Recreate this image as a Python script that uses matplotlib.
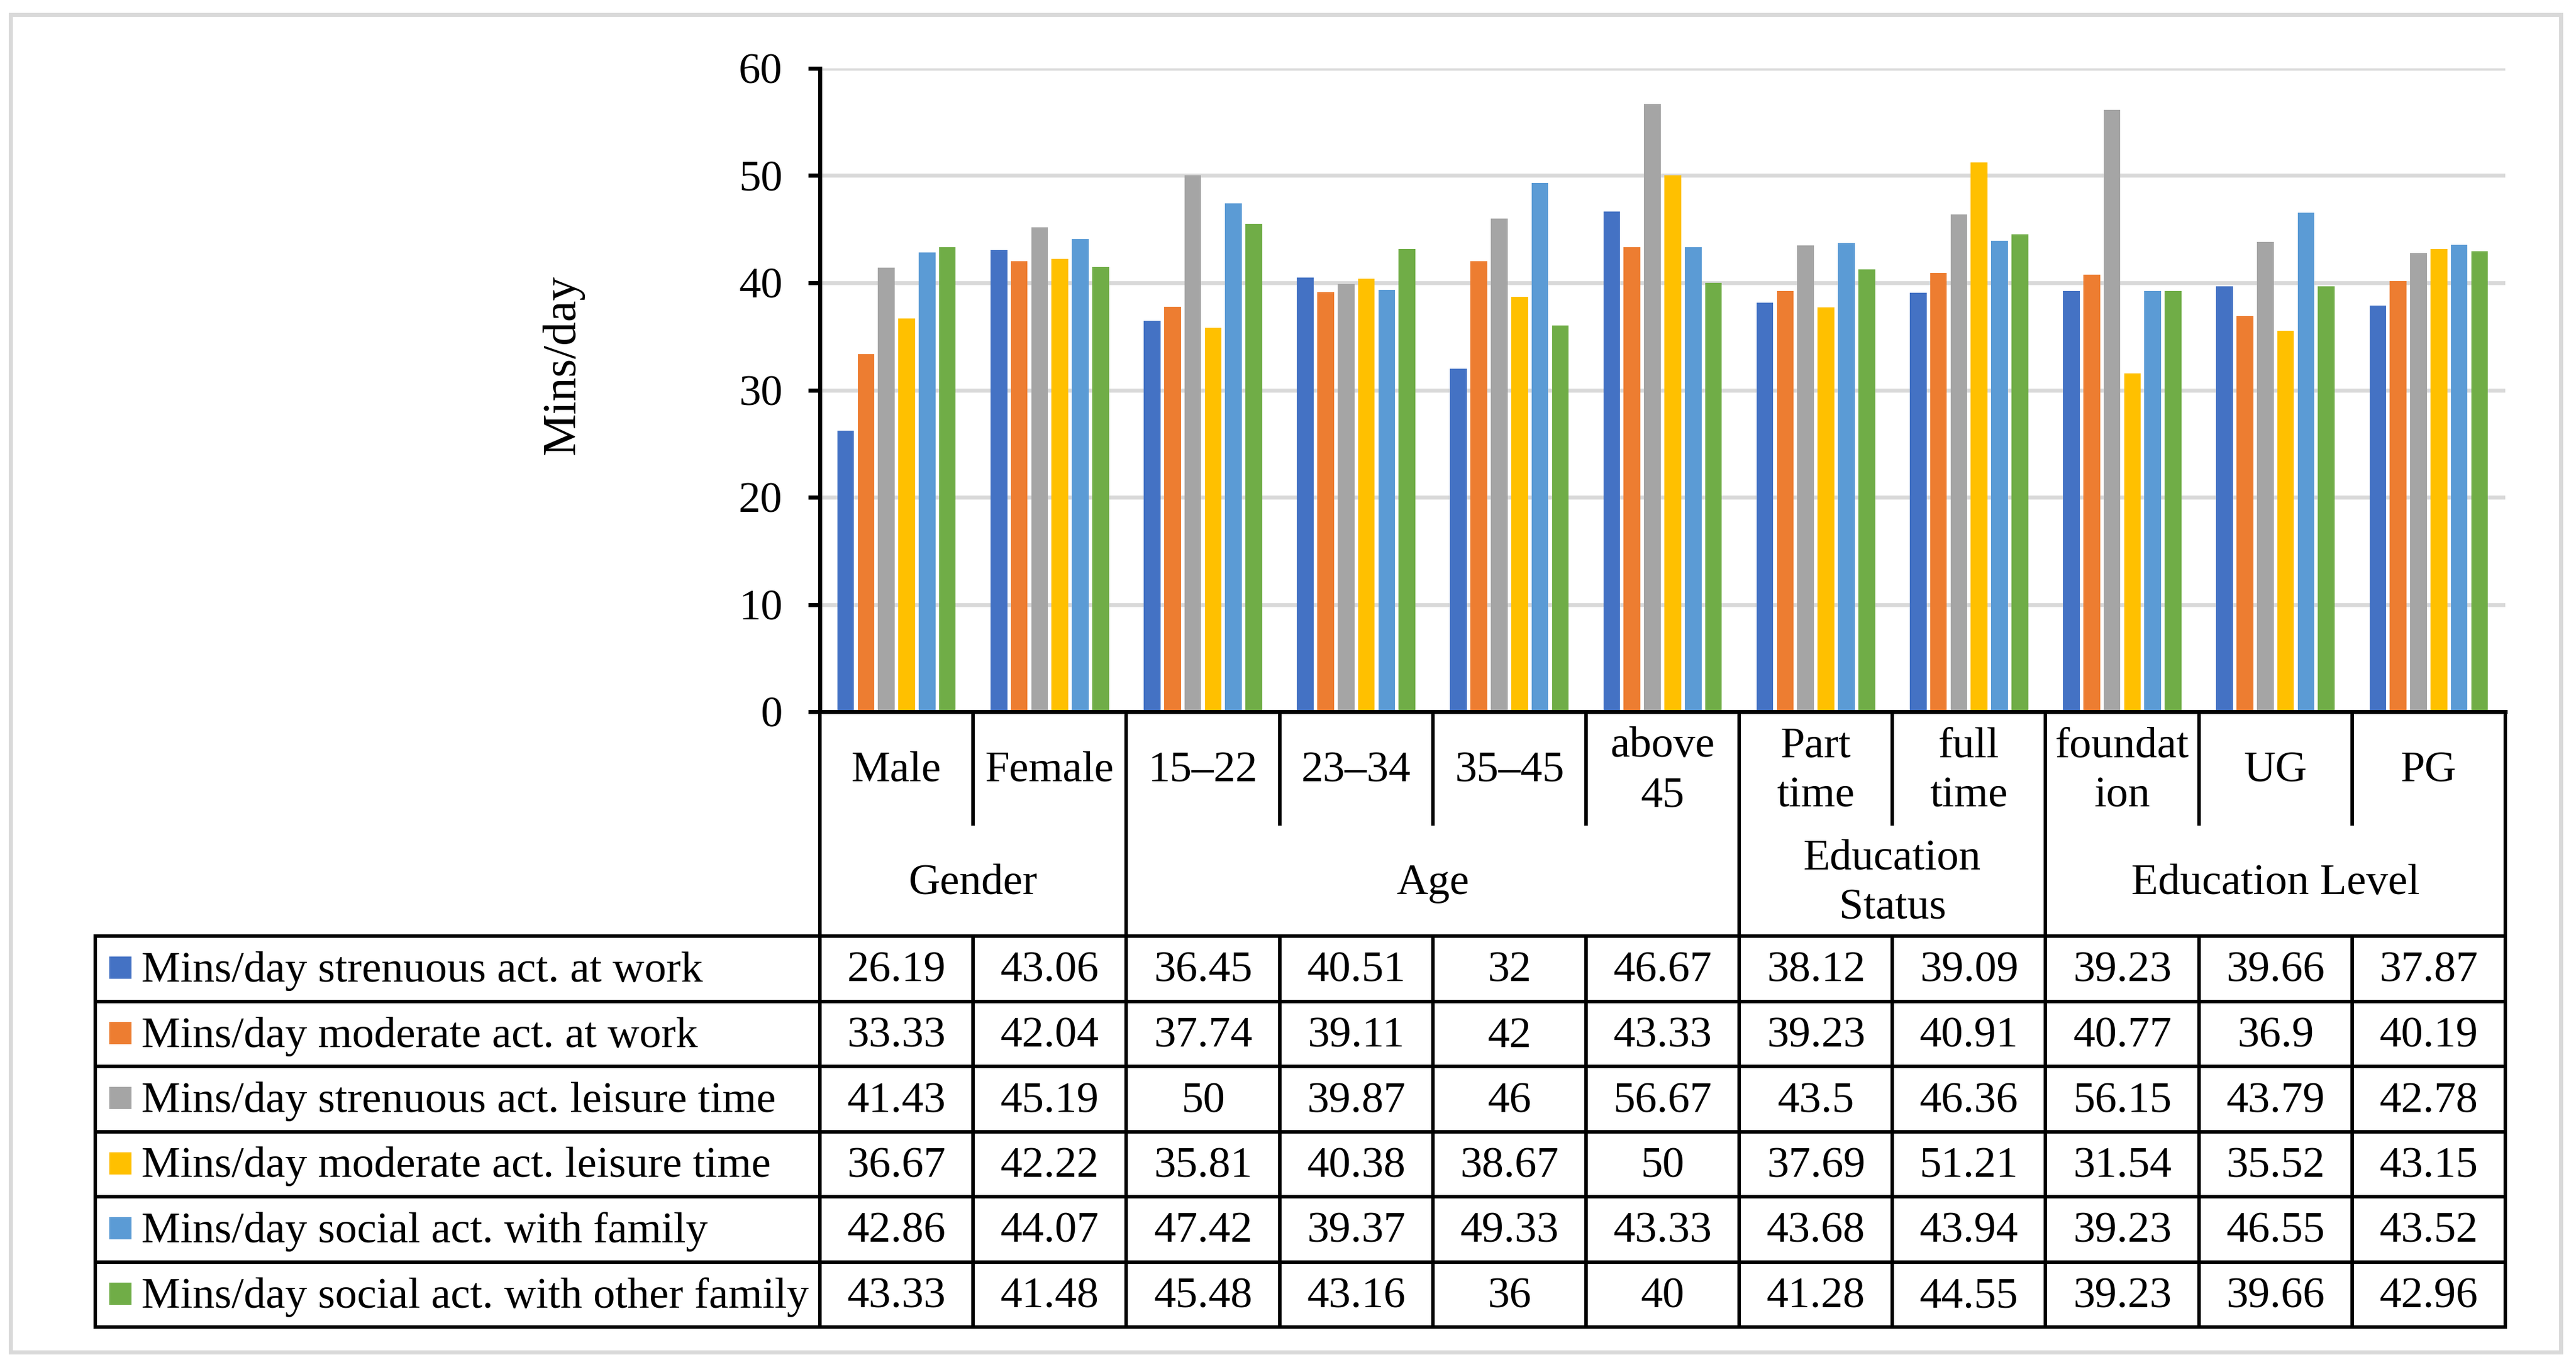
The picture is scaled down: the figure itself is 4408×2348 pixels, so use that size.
import matplotlib
matplotlib.use("Agg")
import matplotlib.pyplot as plt
from matplotlib.patches import Rectangle

plt.rcParams['font.family'] = ['Liberation Serif', 'DejaVu Serif']

# ---------------- data ----------------
categories = ["Male", "Female", "15–22", "23–34", "35–45", "above\n45",
              "Part\ntime", "full\ntime", "foundat\nion", "UG", "PG"]
groups = ["Gender", "Age", "Education\nStatus", "Education Level"]
group_sizes = [2, 4, 2, 3]

series_names = [
    "Mins/day strenuous act. at work",
    "Mins/day moderate act. at work",
    "Mins/day strenuous act. leisure time",
    "Mins/day moderate act. leisure time",
    "Mins/day social act. with family",
    "Mins/day social act. with other family",
]
strenuous_work = [26.19, 43.06, 36.45, 40.51, 32, 46.67, 38.12, 39.09, 39.23, 39.66, 37.87]
moderate_work = [33.33, 42.04, 37.74, 39.11, 42, 43.33, 39.23, 40.91, 40.77, 36.9, 40.19]
strenuous_leisure = [41.43, 45.19, 50, 39.87, 46, 56.67, 43.5, 46.36, 56.15, 43.79, 42.78]
moderate_leisure = [36.67, 42.22, 35.81, 40.38, 38.67, 50, 37.69, 51.21, 31.54, 35.52, 43.15]
social_family = [42.86, 44.07, 47.42, 39.37, 49.33, 43.33, 43.68, 43.94, 39.23, 46.55, 43.52]
social_other = [43.33, 41.48, 45.48, 43.16, 36, 40, 41.28, 44.55, 39.23, 39.66, 42.96]
series_values = [strenuous_work, moderate_work, strenuous_leisure,
                 moderate_leisure, social_family, social_other]
colors = ["#4472C4", "#ED7D31", "#A5A5A5", "#FFC000", "#5B9BD5", "#70AD47"]

y_ticks = [0, 10, 20, 30, 40, 50, 60]
y_label = "Mins/day"

# ---------------- layout (pixels) ----------------
W, H = 4408, 2348
DPI = 200
FS = 27
PT = 72.0 / DPI  # points per pixel

AX_L, AX_R = 1403, 4287
AX_T, AX_B = 117, 1218
ROW1_B = 1410
ROW2_B = 1602
TAB_B = 2271
LEG_L = 163
n_cat = len(categories)
n_ser = len(series_values)
col_w = (AX_R - AX_L) / n_cat
row_h = (TAB_B - ROW2_B) / n_ser

fig = plt.figure(figsize=(W / DPI, H / DPI), dpi=DPI)
fig.patch.set_facecolor("white")

ax = fig.add_axes([AX_L / W, 1 - AX_B / H, (AX_R - AX_L) / W, (AX_B - AX_T) / H])
ax.set_facecolor("none")
pitch = 0.1328
bw = 0.109
xs = list(range(n_cat))
for j, (vals, c) in enumerate(zip(series_values, colors)):
    ax.bar([x + (j - (n_ser - 1) / 2) * pitch for x in xs], vals, width=bw,
           color=c, zorder=3, linewidth=0)
ax.set_xlim(-0.5, n_cat - 0.5)
ax.set_ylim(y_ticks[0], y_ticks[-1])
ax.set_yticks(y_ticks)
ax.set_yticklabels([str(t) for t in y_ticks], fontsize=FS)
ax.set_xticks([])
for s in ["top", "right"]:
    ax.spines[s].set_visible(False)
for s in ["left", "bottom"]:
    ax.spines[s].set_linewidth(7 * PT)
    ax.spines[s].set_color("black")
    ax.spines[s].set_zorder(4)
ax.tick_params(axis="y", length=20 * PT, width=7 * PT, pad=44 * PT, direction="out")
for t in y_ticks[1:]:
    ax.axhline(t, color="#D9D9D9", lw=6.7 * PT, zorder=1)

# ---------------- overlay (table etc.) ----------------
ov = fig.add_axes([0, 0, 1, 1])
ov.set_xlim(0, W)
ov.set_ylim(H, 0)
ov.axis("off")
ov.patch.set_visible(False)

# outer border
ov.add_patch(Rectangle((18, 25), 4382 - 18, 2314 - 25, fill=False,
                       edgecolor="#D9D9D9", lw=7 * PT))

LW = 6 * PT
def hline(y, x0, x1):
    ov.plot([x0, x1], [y, y], color="black", lw=LW, solid_capstyle="projecting")
def vline(x, y0, y1):
    ov.plot([x, x], [y0, y1], color="black", lw=LW, solid_capstyle="projecting")

# horizontal lines of data rows
for i in range(n_ser + 1):
    hline(ROW2_B + i * row_h, LEG_L, AX_R)
# vertical lines
vline(LEG_L, ROW2_B, TAB_B)
vline(AX_L, AX_B, TAB_B)
vline(AX_R, AX_B, TAB_B)
bounds = [0]
for g in group_sizes:
    bounds.append(bounds[-1] + g)
for k in range(1, n_cat):
    x = AX_L + k * col_w
    if k in bounds:
        vline(x, AX_B, TAB_B)
    else:
        vline(x, AX_B, ROW1_B)
        vline(x, ROW2_B, TAB_B)

LSP = 85
def multiline(x, yc, s):
    lines = s.split("\n")
    n = len(lines)
    base0 = yc + 24 - (n - 1) * LSP / 2
    for i, ln in enumerate(lines):
        ov.text(x, base0 + i * LSP, ln, ha="center", va="baseline", fontsize=FS)

# category labels
for k, c in enumerate(categories):
    multiline(AX_L + (k + 0.5) * col_w, (AX_B + ROW1_B) / 2, c)
# group labels
for gi, g in enumerate(groups):
    xc = AX_L + (bounds[gi] + bounds[gi + 1]) / 2 * col_w
    multiline(xc, (ROW1_B + ROW2_B) / 2, g)

# data rows
for i, (name, vals, c) in enumerate(zip(series_names, series_values, colors)):
    top = ROW2_B + i * row_h
    ov.add_patch(Rectangle((187, top + 35), 38, 38, facecolor=c, edgecolor="none"))
    ov.text(242, top + 78, name, ha="left", va="baseline", fontsize=FS)
    for k, v in enumerate(vals):
        ov.text(AX_L + (k + 0.5) * col_w, top + 78, f"{v:g}", ha="center",
                va="baseline", fontsize=FS)

# y label
ov.text(963, 624, y_label, rotation=90, ha="center", va="center", fontsize=29.3)

fig.savefig("out.png", dpi=DPI, facecolor="white")
